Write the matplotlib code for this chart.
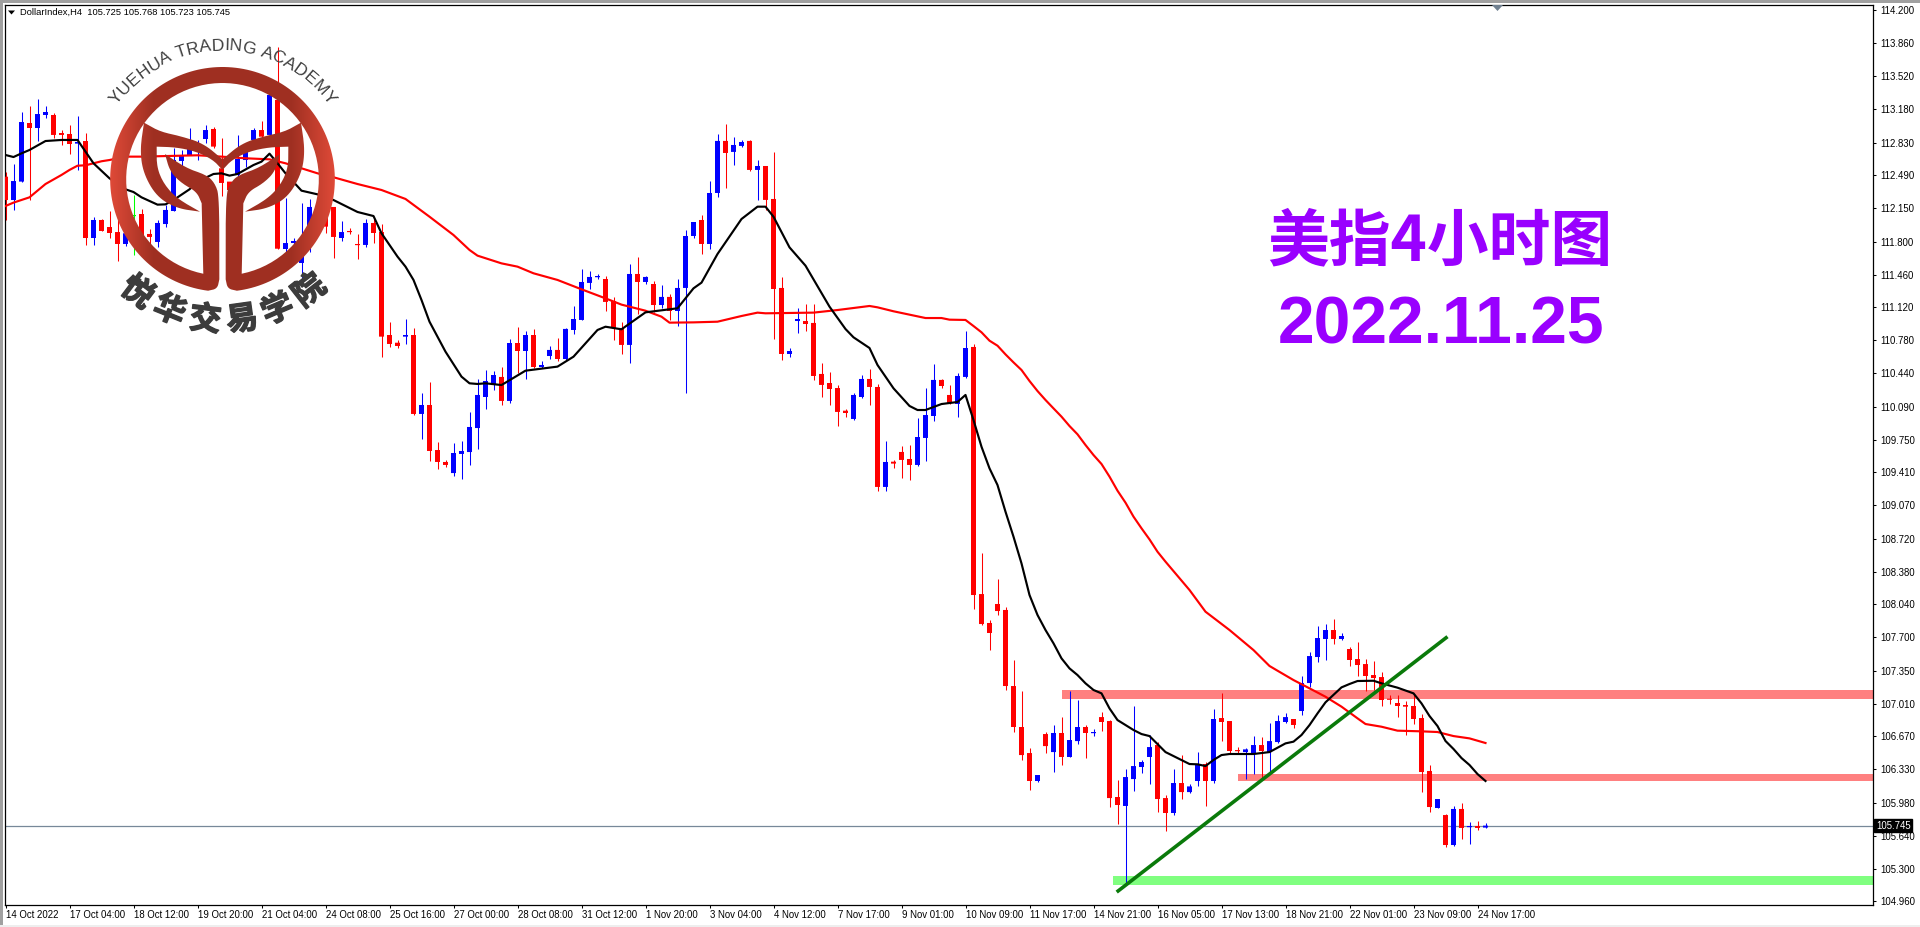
import numpy as np
import matplotlib
matplotlib.use("Agg")
import matplotlib.pyplot as plt
import matplotlib.patheffects as pe
from matplotlib.patches import Rectangle, Polygon
from matplotlib.path import Path

opens = [
    112.476, 112.234, 112.425, 113.033, 112.981, 113.116, 113.116, 112.929, 112.919, 112.819,
    112.846, 111.840, 112.027, 111.954, 111.902, 111.778, 112.079, 112.089, 111.882, 111.799,
    111.985, 112.120, 112.639, 112.701, 112.770, 112.867, 112.971, 112.563, 112.425, 112.494,
    112.649, 112.857, 112.960, 112.909, 113.272, 111.726, 111.788, 111.581, 111.958, 111.958,
    112.131, 112.162, 111.840, 111.913, 111.778, 111.768, 111.996, 111.902, 110.834, 110.754,
    110.817, 110.834, 110.015, 110.108, 109.641, 109.517, 109.402, 109.600, 109.620, 109.869,
    110.191, 110.316, 110.399, 110.150, 110.751, 110.668, 110.834, 110.502, 110.616, 110.679,
    110.585, 110.886, 110.990, 111.374, 111.433, 111.415, 111.187, 110.907, 110.731, 111.467,
    111.384, 111.363, 111.145, 111.229, 111.083, 111.322, 111.861, 112.027, 111.778, 112.307,
    112.847, 112.733, 112.795, 112.847, 112.546, 112.587, 112.245, 111.322, 110.637, 110.979,
    110.979, 110.959, 110.430, 110.336, 110.284, 110.049, 109.963, 110.191, 110.378, 110.295,
    109.258, 109.520, 109.621, 109.548, 109.486, 109.766, 109.994, 110.368, 110.212, 110.119,
    110.399, 110.710, 108.147, 107.847, 108.044, 107.982, 107.193, 106.768, 106.498, 106.208,
    106.695, 106.508, 106.706, 106.457, 106.622, 106.768, 106.706, 106.871, 106.830, 106.042,
    105.949, 106.228, 106.353, 106.457, 106.581, 106.031, 105.876, 106.187, 106.093, 106.208,
    106.384, 106.208, 106.861, 106.830, 106.529, 106.508, 106.495, 106.581, 106.508, 106.612,
    106.820, 106.851, 106.934, 107.224, 107.494, 107.681, 107.774, 107.681, 107.577, 107.473,
    107.421, 107.307, 107.286, 107.062, 107.017, 106.996, 106.986, 106.861, 106.312, 105.928,
    105.855, 105.544, 105.918, 105.731, 105.741, 105.725,
]
highs = [
    112.528, 112.608, 113.147, 113.209, 113.282, 113.209, 113.133, 112.960, 113.012, 113.106,
    112.926, 112.058, 112.034, 112.120, 112.096, 111.958, 112.286, 112.138, 111.930, 112.027,
    112.182, 112.770, 112.753, 112.981, 112.857, 113.012, 112.995, 112.874, 112.425, 112.909,
    112.822, 112.981, 113.054, 113.324, 113.821, 112.252, 111.840, 112.203, 112.245, 112.200,
    112.165, 112.165, 112.017, 111.944, 111.882, 112.037, 112.037, 111.985, 110.969, 110.782,
    111.000, 110.907, 110.232, 110.346, 109.724, 109.537, 109.710, 109.734, 110.035, 110.378,
    110.471, 110.461, 110.506, 110.793, 110.917, 110.876, 110.897, 110.565, 110.720, 110.803,
    110.907, 111.135, 111.519, 111.498, 111.467, 111.446, 111.228, 110.969, 111.571, 111.643,
    111.446, 111.394, 111.353, 111.260, 111.415, 111.923, 112.006, 112.079, 112.432, 112.919,
    113.023, 112.888, 112.857, 112.857, 112.650, 112.587, 112.733, 111.436, 110.699, 111.114,
    111.156, 111.156, 110.544, 110.450, 110.316, 110.067, 110.233, 110.419, 110.482, 110.326,
    109.735, 109.538, 109.683, 109.693, 109.973, 110.284, 110.533, 110.378, 110.316, 110.440,
    110.876, 110.741, 108.573, 107.878, 108.303, 108.016, 107.463, 107.141, 106.550, 106.270,
    106.716, 106.788, 106.871, 107.141, 107.048, 106.788, 106.747, 106.923, 106.840, 106.218,
    106.332, 106.986, 106.426, 106.685, 106.612, 106.062, 106.332, 106.477, 106.177, 106.508,
    106.405, 106.955, 107.121, 106.830, 106.557, 106.550, 106.674, 106.664, 106.809, 106.892,
    106.913, 106.851, 107.297, 107.546, 107.816, 107.836, 107.888, 107.743, 107.598, 107.650,
    107.473, 107.452, 107.338, 107.100, 107.100, 107.038, 107.100, 106.903, 106.374, 106.021,
    105.866, 105.949, 105.980, 105.783, 105.793, 105.768,
]
lows = [
    112.027, 112.131, 112.425, 112.234, 112.846, 113.085, 112.874, 112.805, 112.712, 112.546,
    111.768, 111.768, 111.913, 111.840, 111.602, 111.757, 111.664, 111.871, 111.757, 111.747,
    111.954, 112.120, 112.546, 112.701, 112.649, 112.822, 112.770, 112.276, 112.234, 112.476,
    112.580, 112.822, 112.822, 112.891, 111.729, 111.681, 111.750, 111.353, 111.698, 111.889,
    111.889, 111.633, 111.809, 111.882, 111.622, 111.747, 111.788, 110.609, 110.713, 110.703,
    110.741, 110.004, 109.755, 109.527, 109.444, 109.468, 109.371, 109.340, 109.486, 109.651,
    110.067, 110.264, 110.108, 110.132, 110.437, 110.378, 110.489, 110.489, 110.585, 110.565,
    110.575, 110.845, 110.990, 111.311, 111.415, 111.083, 110.782, 110.637, 110.544, 111.052,
    111.363, 111.073, 111.114, 110.990, 110.928, 110.233, 111.840, 111.674, 111.726, 112.266,
    112.359, 112.598, 112.784, 112.536, 112.235, 112.131, 110.793, 110.575, 110.606, 110.855,
    110.876, 110.368, 110.191, 110.108, 109.890, 109.984, 109.953, 110.181, 110.108, 109.216,
    109.216, 109.455, 109.351, 109.330, 109.475, 109.527, 109.942, 110.284, 110.119, 109.984,
    110.388, 107.992, 107.826, 107.566, 107.930, 107.152, 106.716, 106.426, 106.114, 106.197,
    106.498, 106.301, 106.374, 106.457, 106.591, 106.446, 106.674, 106.726, 105.938, 105.762,
    105.149, 106.104, 106.291, 106.177, 105.886, 105.689, 105.855, 106.021, 106.080, 106.156,
    105.949, 106.187, 106.622, 106.495, 106.495, 106.225, 106.277, 106.229, 106.287, 106.598,
    106.809, 106.757, 106.892, 107.186, 107.442, 107.463, 107.629, 107.670, 107.401, 107.297,
    107.141, 107.152, 106.986, 107.007, 106.871, 106.685, 106.799, 106.093, 105.886, 105.928,
    105.523, 105.534, 105.606, 105.554, 105.700, 105.723,
]
closes = [
    112.234, 112.431, 113.043, 112.981, 113.126, 113.147, 112.909, 112.909, 112.815, 112.836,
    111.840, 112.027, 111.913, 111.892, 111.778, 111.889, 112.079, 111.871, 111.851, 111.996,
    112.131, 112.649, 112.701, 112.788, 112.822, 112.960, 112.788, 112.411, 112.338, 112.660,
    112.753, 112.960, 112.891, 113.324, 111.729, 111.788, 111.809, 111.819, 112.162, 112.131,
    111.958, 111.851, 111.902, 111.902, 111.768, 111.996, 111.892, 110.817, 110.741, 110.720,
    110.834, 110.015, 110.108, 109.631, 109.517, 109.486, 109.610, 109.631, 109.880, 110.212,
    110.357, 110.419, 110.150, 110.751, 110.668, 110.834, 110.502, 110.523, 110.679, 110.585,
    110.897, 111.000, 111.384, 111.436, 111.446, 111.177, 110.907, 110.731, 111.467, 111.384,
    111.436, 111.145, 111.229, 111.083, 111.322, 111.861, 112.006, 111.778, 112.307, 112.847,
    112.722, 112.805, 112.836, 112.546, 112.587, 112.235, 111.311, 110.637, 110.668, 111.000,
    110.948, 110.409, 110.316, 110.274, 110.036, 110.025, 110.212, 110.378, 110.295, 109.258,
    109.517, 109.500, 109.538, 109.486, 109.776, 110.004, 110.368, 110.305, 110.129, 110.409,
    110.699, 108.137, 107.836, 107.743, 107.971, 107.193, 106.768, 106.477, 106.208, 106.270,
    106.570, 106.706, 106.457, 106.633, 106.768, 106.706, 106.716, 106.820, 106.031, 105.959,
    106.249, 106.363, 106.405, 106.560, 106.021, 105.876, 106.187, 106.093, 106.152, 106.384,
    106.208, 106.851, 106.820, 106.519, 106.519, 106.536, 106.581, 106.519, 106.622, 106.830,
    106.871, 106.789, 107.224, 107.504, 107.691, 107.774, 107.681, 107.712, 107.463, 107.411,
    107.297, 107.276, 107.048, 107.051, 106.986, 106.979, 106.851, 106.301, 105.938, 106.021,
    105.544, 105.918, 105.721, 105.741, 105.721, 105.745,
]

# black moving average, read at these bars
black_bars = [0, 1, 2, 3, 5, 7, 9, 10, 11, 13, 15, 16, 17, 19, 20, 21, 23, 24, 26, 27, 28, 29, 31, 32, 33, 34, 35, 37, 39, 41,
              44, 46, 47, 49, 50, 51, 52, 53, 55, 57, 58, 59, 60, 62, 65, 69, 71, 74, 75, 77, 80, 84, 86, 87, 89, 92, 94, 95, 96, 98,
              100, 103, 105, 106, 108, 109, 111, 113, 114, 115, 117, 119, 120, 121, 122, 123, 124, 125, 126, 127, 128, 129, 130, 131, 132, 133, 134, 135, 136, 137,
              138, 139, 140, 141, 142, 143, 144, 145, 146, 147, 148, 149, 150, 151, 152, 153, 156, 158, 160, 161, 162, 163, 164, 165, 167, 168, 169, 171, 172, 174,
              176, 177, 178, 179, 180, 181, 182, 183, 184, 185]
black_ma = [112.701, 112.680, 112.718, 112.753, 112.846, 112.857, 112.857, 112.736, 112.615, 112.459, 112.345, 112.317, 112.262, 112.186, 112.189, 112.234, 112.345, 112.425, 112.504, 112.511, 112.487, 112.504, 112.597, 112.632, 112.715, 112.615, 112.511, 112.331, 112.293, 112.234,
            112.110, 112.068, 111.889, 111.647, 111.543, 111.405, 111.197, 110.972, 110.661, 110.402, 110.333, 110.326, 110.333, 110.315, 110.464, 110.506, 110.609, 110.886, 110.920, 110.893, 111.069, 111.111, 111.318, 111.377, 111.674, 112.037, 112.165, 112.165, 112.061, 111.743,
            111.553, 111.128, 110.896, 110.810, 110.699, 110.523, 110.281, 110.098, 110.056, 110.056, 110.118, 110.139, 110.212, 109.952, 109.675, 109.451, 109.278, 109.001, 108.742, 108.465, 108.137, 107.930, 107.774, 107.636, 107.480, 107.376, 107.307, 107.221, 107.152, 107.117,
            106.961, 106.840, 106.788, 106.737, 106.695, 106.674, 106.591, 106.508, 106.467, 106.426, 106.384, 106.381, 106.363, 106.426, 106.477, 106.488, 106.488, 106.508, 106.598, 106.616, 106.685, 106.788, 106.909, 107.024, 107.179, 107.214, 107.245, 107.248, 107.221, 107.176,
            107.117, 107.013, 106.882, 106.778, 106.623, 106.540, 106.446, 106.374, 106.280, 106.208]

# red moving average, read at these bars
red_bars = [0, 1, 3, 5, 7, 8, 9, 10, 12, 13, 15, 17, 24, 27, 30, 33, 35, 37, 39, 41, 44, 47, 50, 53, 56, 58, 59, 62, 64, 66, 69, 72, 75, 77, 80, 82, 83, 86, 89, 92, 94, 95, 101, 104, 108, 109, 111, 115, 117, 118,
            120, 121, 122, 123, 124, 125, 126, 127, 128, 129, 130, 131, 132, 133, 134, 135, 136, 137, 138, 139, 140, 141, 142, 143, 144, 145, 148, 150, 153, 156, 158, 159, 161, 163, 165, 167, 169, 170, 172, 174, 177, 179, 181, 183, 185]
red_ma = [112.172, 112.207, 112.262, 112.400, 112.494, 112.546, 112.590, 112.594, 112.636, 112.649, 112.684, 112.684, 112.698, 112.684, 112.667, 112.656, 112.615, 112.563, 112.511, 112.470, 112.400, 112.338, 112.245, 112.061, 111.871, 111.716, 111.657, 111.577, 111.543, 111.474, 111.405, 111.308, 111.214, 111.149, 111.086, 111.024, 110.962, 110.965, 110.972, 111.031, 111.066, 111.059, 111.066, 111.093, 111.135, 111.121, 111.080, 111.010, 111.010, 110.993,
          110.990, 110.927, 110.862, 110.775, 110.723, 110.633, 110.550, 110.471, 110.357, 110.253, 110.160, 110.073, 109.987, 109.890, 109.804, 109.693, 109.589, 109.496, 109.365, 109.219, 109.095, 108.950, 108.829, 108.714, 108.586, 108.483, 108.189, 107.964, 107.774, 107.566, 107.401, 107.352, 107.255, 107.169, 107.082, 106.979, 106.858, 106.799, 106.771, 106.730, 106.723, 106.716, 106.674, 106.650, 106.602]

y_ticks = [114.2, 113.86, 113.52, 113.18, 112.83, 112.49, 112.15, 111.8, 111.46, 111.12, 110.78, 110.44, 110.09, 109.75,
           109.41, 109.07, 108.72, 108.38, 108.04, 107.7, 107.35, 107.01, 106.67, 106.33, 105.98, 105.64, 105.3, 104.96]
x_labels = ["14 Oct 2022", "17 Oct 04:00", "18 Oct 12:00", "19 Oct 20:00", "21 Oct 04:00", "24 Oct 08:00",
            "25 Oct 16:00", "27 Oct 00:00", "28 Oct 08:00", "31 Oct 12:00", "1 Nov 20:00", "3 Nov 04:00",
            "4 Nov 12:00", "7 Nov 17:00", "9 Nov 01:00", "10 Nov 09:00", "11 Nov 17:00", "14 Nov 21:00",
            "16 Nov 05:00", "17 Nov 13:00", "18 Nov 21:00", "22 Nov 01:00", "23 Nov 09:00", "24 Nov 17:00"]
last_price = 105.745

W, H = 1920, 927
UI_FONT = "Liberation Sans"
fig = plt.figure(figsize=(W / 100, H / 100), dpi=100, facecolor="white")

# chart axes, frame sits on exact pixels
ax = fig.add_axes([4.5 / W, 1 - 904.5 / H, 1868 / W, 900 / H])
ax.set_xlim(-0.125, 233.375)
ax.set_ylim(104.927, 114.262)
for s in ax.spines.values():
    s.set_linewidth(0.9)

bars = np.arange(len(opens))
o, h, l, c = map(np.array, (opens, highs, lows, closes))
colors = np.where(c > o, "#0000ff", np.where(c < o, "#ff0000", "#00ff00"))

ax.axhline(last_price, color="#778899", lw=0.9, zorder=1)

# support and resistance bands
ax.add_patch(Rectangle((132, 107.058), 120, 0.094, fc="#ff8080", ec="none", zorder=1))
ax.add_patch(Rectangle((154, 106.208), 100, 0.072, fc="#ff8080", ec="none", zorder=1))
ax.add_patch(Rectangle((138.4, 105.129), 116, 0.093, fc="#80ff80", ec="none", zorder=1))

ax.vlines(bars, l, h, colors=colors, lw=0.75, zorder=2)
body_top = np.maximum(o, c)
body_h = np.maximum(np.abs(c - o), 0.012)
body = ax.bar(bars, body_h, bottom=body_top - body_h, width=0.625, color=colors, linewidth=0, zorder=3)
for b in body:
    b.set_snap(False)

ax.plot(red_bars, red_ma, color="#ff0000", lw=1.55, zorder=4)
ax.plot(black_bars, black_ma, color="#000000", lw=1.55, zorder=5)
ax.plot([138.9, 180.25], [105.056, 107.705], color="#0a7a0a", lw=2.6, zorder=6, solid_capstyle="butt")

ax.set_xticks(bars[::8], x_labels)
ax.set_yticks(y_ticks, [f"{v:.3f}" for v in y_ticks])
ax.yaxis.tick_right()
ax.tick_params(axis="y", length=2, width=0.75, pad=3.5, labelsize=6.9)
ax.tick_params(axis="x", length=2.5, width=0.75, pad=1.5, labelsize=6.9)
for t in ax.get_xticklabels() + ax.get_yticklabels():
    t.set_fontfamily(UI_FONT)
for t in ax.get_xticklabels():
    t.set_ha("left")

ax.text(1.0018, last_price, f"{last_price:.3f}", transform=ax.get_yaxis_transform(), color="white", fontsize=6.9,
        family=UI_FONT, va="center", ha="left", zorder=10, clip_on=False,
        bbox=dict(fc="black", ec="black", pad=1.3))

# overlay in pixel coordinates for the decoration
ov = fig.add_axes([0, 0, 1, 1], zorder=5)
ov.axis("off")
ov.patch.set_alpha(0)

ov.add_patch(Rectangle((0, 0), W, 2.5, fc="#a0a0a0", ec="none"))
ov.add_patch(Rectangle((0, 0), 2.5, H, fc="#a0a0a0", ec="none"))
ov.add_patch(Rectangle((0, 924.5), W, 2.5, fc="#eeeeee", ec="none"))
ov.add_patch(Polygon([(8, 10.5), (15, 10.5), (11.5, 14.5)], fc="black", ec="none"))
ov.add_patch(Polygon([(1492, 5), (1503, 5), (1497.5, 11)], fc="#708090", ec="none"))
ov.text(20, 12.8, "DollarIndex,H4  105.725 105.768 105.723 105.745", fontsize=6.75, family=UI_FONT, va="center", ha="left")

PURPLE = "#9900ff"
ov.text(1440, 242, "美指4小时图", fontsize=44.5, color=PURPLE, family=["Noto Sans CJK SC", "DejaVu Sans"],
        weight="bold", ha="center", va="center")
ov.text(1441, 326, "2022.11.25", fontsize=47.5, color=PURPLE, family=UI_FONT, weight="bold", ha="center", va="center")


def chaikin(pts, n=3):
    pts = np.array(pts, float)
    for _ in range(n):
        q = 0.75 * pts[:-1] + 0.25 * pts[1:]
        r = 0.25 * pts[:-1] + 0.75 * pts[1:]
        mid = np.empty((2 * len(q), 2))
        mid[0::2] = q
        mid[1::2] = r
        pts = np.vstack([pts[:1], mid, pts[-1:]])
    return pts


# logo outline is noted in 3x pixels, left half mirrored to the right
LCX, LCY, R_OUT, R_IN = 667.5, 538.0, 337.0, 289.0


def arc(rad, a0, a1):
    t = np.radians(np.linspace(a0, a1, 90))
    return np.column_stack([LCX + rad * np.sin(t), LCY - rad * np.cos(t)])


half = np.vstack([
    arc(R_OUT, 1, -172.8),
    chaikin([(625, 872), (652, 866), (658, 838)]),
    chaikin([(658, 838), (658, 590), (645, 550), (620, 525), (560, 505), (495, 462)]),
    chaikin([(495, 462), (510, 515), (545, 550), (590, 575), (605, 610)]),
    [(610, 825)],
    arc(R_IN, -168.5, 1),
])
horn = np.vstack([
    chaikin([(432, 368), (480, 395), (540, 408), (610, 430), (667.5, 478)]),
    chaikin([(667.5, 510), (640, 480), (590, 455), (530, 442), (470, 440)]),
    chaikin([(470, 440), (470, 500), (490, 550), (530, 595), (600, 635)]),
    chaikin([(600, 635), (530, 625), (470, 590), (430, 520), (420, 450), (432, 368)]),
])

gx = np.linspace(-1, 1, 400)
fade = np.clip((np.abs(gx) - 0.62) / 0.38, 0, 1)[None, :, None]
dark = np.array([0.627, 0.188, 0.133])
bright = np.array([0.875, 0.29, 0.22])
grad = dark * (1 - fade) + bright * fade
ext = [(LCX - R_OUT) / 3, (LCX + R_OUT) / 3, (LCY + R_OUT) / 3, (LCY - R_OUT) / 3]

for shape in (half, horn):
    for mirror in (False, True):
        p = shape.copy()
        if mirror:
            p[:, 0] = 2 * LCX - p[:, 0]
        im = ov.imshow(grad, extent=ext, aspect="auto", zorder=2)
        im.set_clip_path(Path(np.vstack([p, p[:1]]) / 3), transform=ov.transData)

ov.set_xlim(0, W)
ov.set_ylim(H, 0)

# lettering around the ring
cx, cy = LCX / 3, LCY / 3
en_text = "YUEHUA TRADING ACADEMY"
en_w = dict(Y=.667, U=.722, E=.667, H=.722, A=.667, T=.611, R=.722, D=.722, I=.278, N=.722, G=.778, C=.722, M=.833)
en_w[" "] = .278
em = 17.5
rad = 129.0
total = sum(en_w[ch] for ch in en_text) * em
pos = -total / 2
for ch in en_text:
    adv = en_w[ch] * em
    th = (pos + adv / 2) / rad
    ov.text(cx + rad * np.sin(th), cy - rad * np.cos(th), ch, fontsize=em * 0.72, color="#404040", family=UI_FONT,
            rotation=-np.degrees(th), rotation_mode="anchor", ha="center", va="baseline", zorder=3)
    pos += adv

for k, ch in enumerate("悦华交易学院"):
    a = np.radians(-37 + 15 * k)
    ov.text(cx + 142 * np.sin(a), cy + 142 * np.cos(a), ch, fontsize=23, color="#3c3c3c",
            family="Noto Sans CJK SC", weight="bold", rotation=np.degrees(a), rotation_mode="anchor",
            ha="center", va="center", zorder=3,
            path_effects=[pe.withStroke(linewidth=1.0, foreground="#3c3c3c")])

fig.savefig("out.png", dpi=100)
